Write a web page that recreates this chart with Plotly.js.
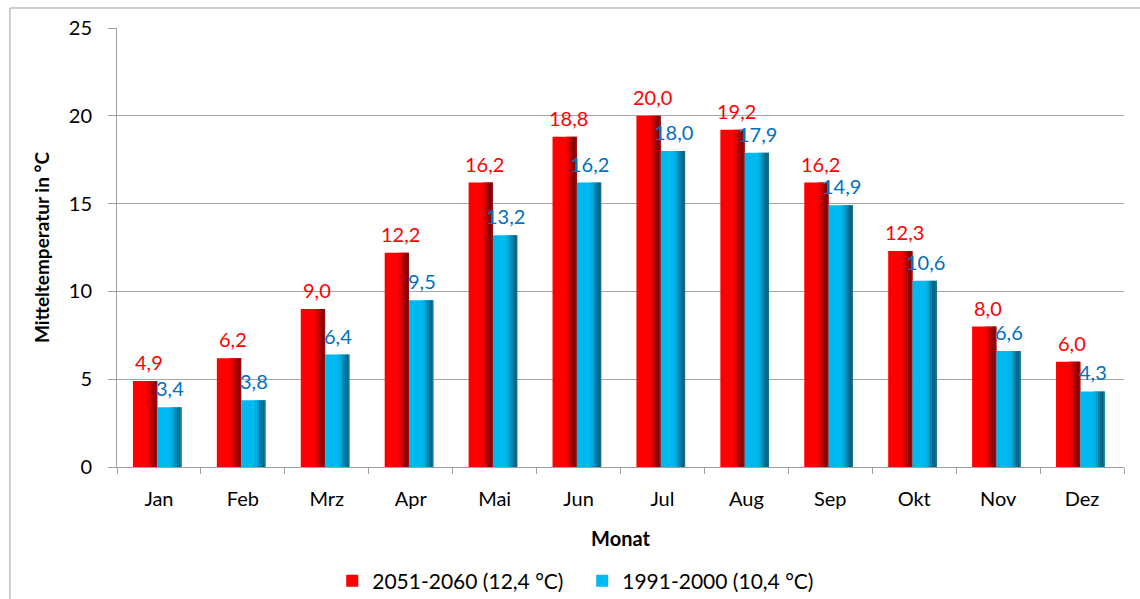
<!DOCTYPE html>
<html><head><meta charset="utf-8">
<script src="https://cdn.plot.ly/plotly-3.0.1.min.js"></script>
<style>html,body{margin:0;padding:0;background:#fff}#chart{width:1140px;height:599px}</style>
</head><body><div id="chart"></div>
<script>
const months = ["Jan","Feb","Mrz","Apr","Mai","Jun","Jul","Aug","Sep","Okt","Nov","Dez"];
const future = [4.9,6.2,9.0,12.2,16.2,18.8,20.0,19.2,16.2,12.3,8.0,6.0];
const past = [3.4,3.8,6.4,9.5,13.2,16.2,18.0,17.9,14.9,10.6,6.6,4.3];
const futureName = "2051-2060 (12,4 °C)";
const pastName = "1991-2000 (10,4 °C)";

const W = 0.29;
const SHIFT = -0.02;
const FONT = "Lato, 'Open Sans', sans-serif";
const redStrips = [[0.55,0.65,"#ee0000"],[0.65,0.72,"#d40000"],[0.72,0.8,"#b30000"],[0.8,0.88,"#920000"],[0.88,0.95,"#7c0000"],[0.95,1,"#8f1010"]];
const blueStrips = [[0.55,0.65,"#00aee2"],[0.65,0.72,"#0098c6"],[0.72,0.8,"#0082aa"],[0.8,0.88,"#006d8f"],[0.88,0.95,"#005c7a"],[0.95,1,"#1a6c88"]];

function series(vals, name, base, strips, offset){
  const out = [];
  out.push({type:"bar", x:months, y:vals, name:name, width:W, offset:offset,
    marker:{color:base, line:{width:0}}, hoverinfo:"y"});
  strips.forEach(s=>{
    out.push({type:"bar", x:months, y:vals, width:W*(s[1]-s[0]), offset:offset+W*s[0],
      marker:{color:s[2], line:{width:0}}, showlegend:false, hoverinfo:"skip"});
  });
  return out;
}

const data = [].concat(
  series(future, futureName, "#ff0000", redStrips, -W+SHIFT),
  series(past, pastName, "#00b8f0", blueStrips, SHIFT)
);

function labels(vals, color, xshift){
  return vals.map((v,i)=>({x:months[i], y:v, xref:"x", yref:"y", text:v.toFixed(1).replace(".",","),
    showarrow:false, xanchor:"center", yanchor:"bottom", xshift:xshift, yshift:5,
    font:{family:FONT,size:20,color:color}}));
}
const annotations = [].concat(labels(future,"#ff0000",-10), labels(past,"#0070c0",11));

const layout = {
  width:1140, height:599,
  margin:{l:117, r:16, t:28, b:132, autoexpand:false},
  paper_bgcolor:"#fff", plot_bgcolor:"#fff",
  barmode:"overlay",
  separators:",.",
  font:{family:FONT, size:20, color:"#000"},
  showlegend:true,
  legend:{orientation:"h", x:0.462, xanchor:"center", y:-0.213, yanchor:"top",
    font:{family:FONT,size:21,color:"#000"}, traceorder:"normal", itemwidth:30,
    entrywidth:205, entrywidthmode:"pixels"},
  annotations:annotations,
  xaxis:{type:"category", tickson:"boundaries", ticks:"outside", ticklen:6, tickcolor:"#a0a0a0",
    showline:true, linecolor:"#a0a0a0", linewidth:1, showgrid:false, zeroline:false, automargin:false,
    tickfont:{family:FONT,size:20,color:"#000"}, ticklabelstandoff:14,
    title:{text:"<b>Monat</b>", font:{family:FONT,size:20,color:"#000"}, standoff:22}},
  yaxis:{range:[0,25], dtick:5, ticks:"outside", ticklen:8, tickcolor:"#a0a0a0", automargin:false,
    showline:true, linecolor:"#a0a0a0", linewidth:1, gridcolor:"#a6a6a6", zeroline:false,
    tickfont:{family:FONT,size:20,color:"#000"}, ticklabelstandoff:12,
    title:{text:"<b>Mitteltemperatur in °C</b>", font:{family:FONT,size:19,color:"#000"}, standoff:14}},
  shapes:[{type:"rect", xref:"paper", yref:"paper", x0:-0.1063, x1:1.2, y0:-0.5, y1:1.0456,
    line:{color:"#a0a0a0", width:1}, fillcolor:"rgba(0,0,0,0)", layer:"below"}]
};
Plotly.newPlot("chart", data, layout, {displayModeBar:false, staticPlot:true});
</script></body></html>
